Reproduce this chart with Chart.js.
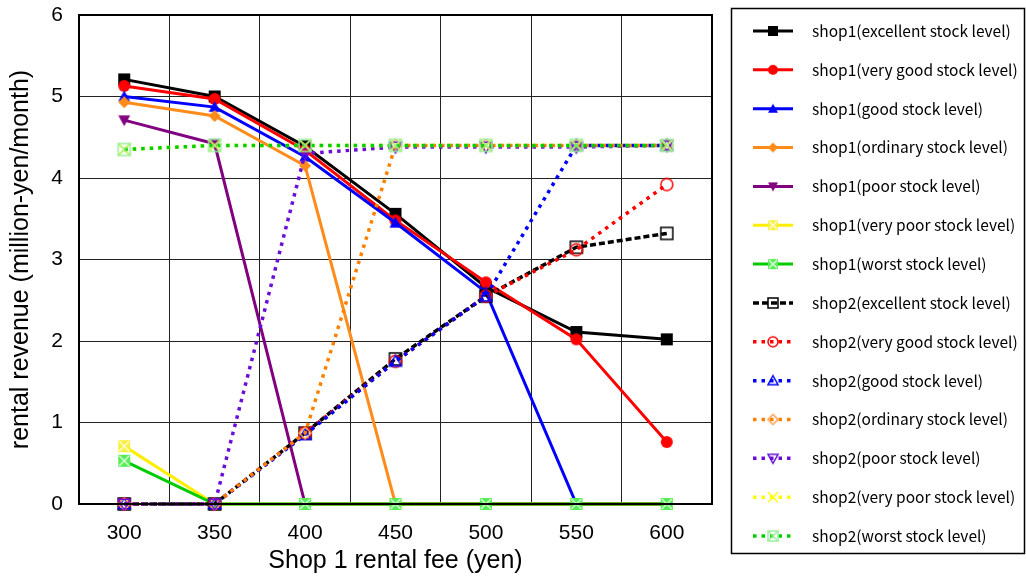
<!DOCTYPE html>
<html>
<head>
<meta charset="utf-8">
<script src="https://cdn.jsdelivr.net/npm/chart.js@4.4.0/dist/chart.umd.min.js"></script>
<style>
    html, body { margin: 0; padding: 0; background: #fff; }
    #wrap { width: 1026px; height: 576px; position: relative; }
</style>
</head>
<body>
<div id="wrap"><canvas id="revenueChart"></canvas></div>
<script>
// x categories (shop 1 rental fee, yen)
const fees = ['300', '350', '400', '450', '500', '550', '600'];
const yTicks = [0, 1, 2, 3, 4, 5, 6];

// rental revenue (million yen / month)
const shop1Excellent = [5.21, 5.00, 4.39, 3.56, 2.66, 2.11, 2.02];
const shop1VeryGood  = [5.13, 4.97, 4.34, 3.48, 2.72, 2.02, 0.76];
const shop1Good      = [5.00, 4.87, 4.26, 3.45, 2.60, 0, 0];
const shop1Ordinary  = [4.93, 4.76, 4.15, 0, 0, 0, 0];
const shop1Poor      = [4.71, 4.42, 0, 0, 0, 0, 0];
const shop1VeryPoor  = [0.71, 0, 0, 0, 0, 0, 0];
const shop1Worst     = [0.53, 0, 0, 0, 0, 0, 0];
const shop2Excellent = [0, 0, 0.87, 1.78, 2.55, 3.15, 3.32];
const shop2VeryGood  = [0, 0, 0.87, 1.75, 2.55, 3.12, 3.92];
const shop2Good      = [0, 0, 0.85, 1.75, 2.55, 4.40, 4.40];
const shop2Ordinary  = [0, 0, 0.87, 4.40, 4.40, 4.40, 4.40];
const shop2Poor      = [0, 0, 4.30, 4.38, 4.38, 4.38, 4.40];
const shop2VeryPoor  = [4.35, 4.40, 4.40, 4.40, 4.40, 4.40, 4.40];
const shop2Worst     = [4.35, 4.40, 4.40, 4.40, 4.40, 4.40, 4.40];

// little canvases used as point styles (and reused in the legend)
function makeMarker(shape, color, filled, size) {
    const c = document.createElement('canvas');
    c.width = c.height = size + 4;
    const g = c.getContext('2d');
    const m = c.width / 2, r = size / 2;
    g.lineWidth = 1.5;
    g.strokeStyle = color;
    g.fillStyle = color;
    g.beginPath();
    switch (shape) {
        case 'square':
            g.rect(m - r, m - r, size, size);
            break;
        case 'circle':
            g.arc(m, m, r, 0, Math.PI * 2);
            break;
        case 'triangle':
            g.moveTo(m, m - r); g.lineTo(m + r, m + r * 0.8); g.lineTo(m - r, m + r * 0.8); g.closePath();
            break;
        case 'down':
            g.moveTo(m, m + r); g.lineTo(m + r, m - r * 0.8); g.lineTo(m - r, m - r * 0.8); g.closePath();
            break;
        case 'diamond':
            g.moveTo(m, m - r); g.lineTo(m + r, m); g.lineTo(m, m + r); g.lineTo(m - r, m); g.closePath();
            break;
        case 'boxcross':
            g.rect(m - r, m - r, size, size);
            break;
        case 'cross':
            g.moveTo(m - r, m - r); g.lineTo(m + r, m + r);
            g.moveTo(m + r, m - r); g.lineTo(m - r, m + r);
            break;
    }
    if (filled) g.fill(); else g.stroke();
    if (shape === 'boxcross') {
        g.beginPath();
        g.strokeStyle = filled ? 'rgba(255,255,255,0.9)' : color;
        g.lineWidth = 1.2;
        g.moveTo(m - r + 1, m - r + 1); g.lineTo(m + r - 1, m + r - 1);
        g.moveTo(m + r - 1, m - r + 1); g.lineTo(m - r + 1, m + r - 1);
        g.stroke();
    }
    return c;
}

const solid = [];
const dotted = [3.5, 5];

const series = [
    ['shop1(excellent stock level)', shop1Excellent, '#000000', solid, 'square', '#000000', true],
    ['shop1(very good stock level)', shop1VeryGood, '#ff0000', solid, 'circle', '#ff0000', true],
    ['shop1(good stock level)', shop1Good, '#0000ff', solid, 'triangle', '#0000ff', true],
    ['shop1(ordinary stock level)', shop1Ordinary, '#ff8c1a', solid, 'diamond', '#ff8c1a', true],
    ['shop1(poor stock level)', shop1Poor, '#800080', solid, 'down', '#800080', true],
    ['shop1(very poor stock level)', shop1VeryPoor, '#ffee00', solid, 'boxcross', '#f8f040', true],
    ['shop1(worst stock level)', shop1Worst, '#00cc00', solid, 'boxcross', '#55ee55', true],
    ['shop2(excellent stock level)', shop2Excellent, '#000000', [6, 3], 'square', '#000000', false],
    ['shop2(very good stock level)', shop2VeryGood, '#ff0000', dotted, 'circle', '#ff0000', false],
    ['shop2(good stock level)', shop2Good, '#0000ff', dotted, 'triangle', '#0000ff', false],
    ['shop2(ordinary stock level)', shop2Ordinary, '#ff8000', dotted, 'diamond', '#ffa050', false],
    ['shop2(poor stock level)', shop2Poor, '#6a0dd6', dotted, 'down', '#6a0dd6', false],
    ['shop2(very poor stock level)', shop2VeryPoor, '#ffff00', dotted, 'cross', '#ffff00', false],
    ['shop2(worst stock level)', shop2Worst, '#00d000', dotted, 'boxcross', '#99ee99', false]
];

const datasets = series.map((s, i) => ({
    label: s[0],
    data: s[1],
    borderColor: s[2],
    backgroundColor: s[2],
    borderWidth: s[3].length ? 3.5 : 3,
    borderDash: s[3],
    pointStyle: makeMarker(s[4], s[5], s[6], 12),
    legendMarker: makeMarker(s[4], s[5], s[6], 10),
    pointRadius: 6,
    tension: 0,
    clip: false,
    order: series.length - i
}));

// frame round the plot area
const plotFrame = {
    id: 'plotFrame',
    afterDatasetsDraw(chart) {
        const a = chart.chartArea;
        const ctx = chart.ctx;
        ctx.save();
        ctx.strokeStyle = '#000';
        ctx.lineWidth = 2;
        ctx.strokeRect(a.left, a.top, a.right - a.left, a.bottom - a.top);
        ctx.restore();
    }
};

// boxed legend on the right, line sample + marker + text
const boxLegend = {
    id: 'boxLegend',
    afterDraw(chart) {
        const ctx = chart.ctx;
        const left = chart.chartArea.right + 19;
        ctx.save();
        ctx.strokeStyle = '#000';
        ctx.lineWidth = 1.5;
        ctx.strokeRect(left + 0.5, 8.5, 293, 545);
        chart.data.datasets.forEach((ds, i) => {
            const y = 31 + i * 38.85;
            ctx.strokeStyle = ds.borderColor;
            ctx.lineWidth = ds.borderWidth;
            ctx.setLineDash(ds.borderDash);
            ctx.beginPath();
            ctx.moveTo(left + 22, y);
            ctx.lineTo(left + 62, y);
            ctx.stroke();
            ctx.setLineDash([]);
            const mk = ds.legendMarker;
            ctx.drawImage(mk, left + 42 - mk.width / 2, y - mk.height / 2);
            ctx.fillStyle = '#000';
            ctx.font = '15.5px "Noto Sans CJK JP"';
            ctx.textBaseline = 'middle';
            ctx.fillText(ds.label, left + 81, y);
        });
        ctx.restore();
    }
};

document.addEventListener('DOMContentLoaded', function() {
    const ctx = document.getElementById('revenueChart').getContext('2d');
    new Chart(ctx, {
        type: 'line',
        data: {
            labels: fees,
            datasets: datasets
        },
        options: {
            responsive: true,
            maintainAspectRatio: false,
            animation: false,
            layout: {
                padding: { left: 0, right: 314, top: 15, bottom: 0 }
            },
            scales: {
                y: {
                    min: yTicks[0],
                    max: yTicks[yTicks.length - 1],
                    afterFit: scale => {
                        scale.width = 79;
                        scale.paddingTop = 0;
                        scale.paddingBottom = 0;
                    },
                    ticks: {
                        stepSize: 1,
                        color: '#000',
                        padding: 16,
                        font: { family: 'Liberation Sans', size: 21 }
                    },
                    grid: { color: '#222', lineWidth: 1, drawTicks: false },
                    border: { color: '#000', width: 2 },
                    title: {
                        display: true,
                        text: 'rental revenue (million-yen/month)',
                        color: '#000',
                        padding: { top: 6, bottom: 0 },
                        font: { family: 'Liberation Sans', size: 25 }
                    }
                },
                x: {
                    offset: true,
                    afterFit: scale => { scale.height = 72; },
                    ticks: {
                        color: '#000',
                        padding: 17,
                        font: { family: 'Liberation Sans', size: 21 }
                    },
                    grid: { color: '#222', lineWidth: 1, drawTicks: false, offset: true },
                    border: { color: '#000', width: 2 },
                    title: {
                        display: true,
                        text: 'Shop 1 rental fee (yen)',
                        color: '#000',
                        padding: { top: 0, bottom: 0 },
                        font: { family: 'Liberation Sans', size: 25 }
                    }
                }
            },
            plugins: {
                legend: { display: false },
                tooltip: { enabled: false }
            }
        },
        plugins: [plotFrame, boxLegend]
    });
});
</script>
</body>
</html>
